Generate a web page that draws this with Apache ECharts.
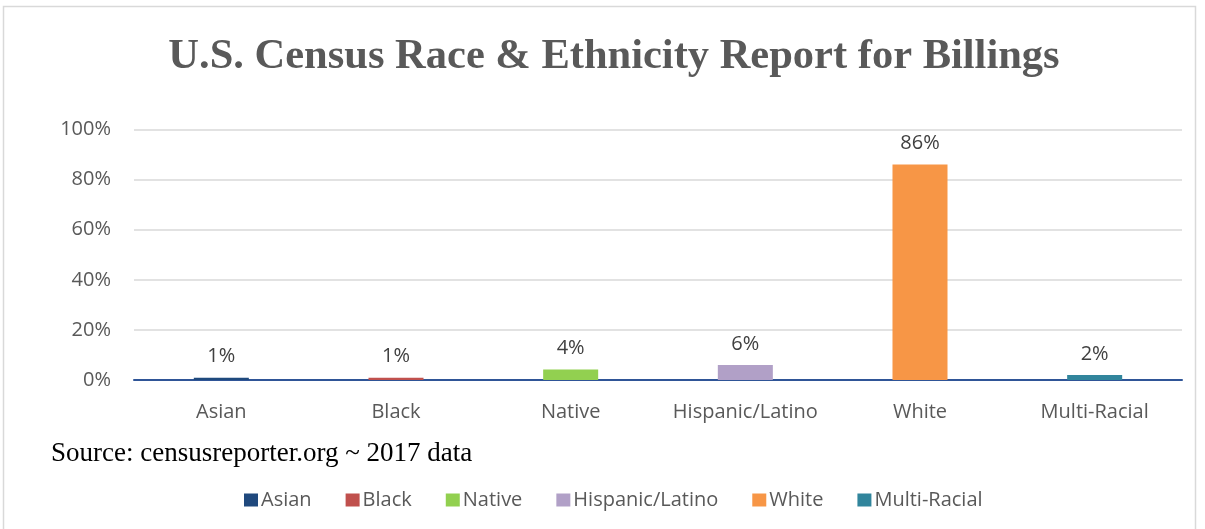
<!DOCTYPE html>
<html>
<head>
<meta charset="utf-8">
<script src="https://cdn.jsdelivr.net/npm/echarts@6/dist/echarts.min.js"></script>
<style>html,body{margin:0;padding:0;background:#fff}#c{width:1205px;height:529px}</style>
</head>
<body>
<div id="c"></div>
<script>
const categories = ['Asian', 'Black', 'Native', 'Hispanic/Latino', 'White', 'Multi-Racial'];
const values = [0.009, 0.009, 0.042, 0.06, 0.86, 0.02];
const colors = ['#1F497D', '#C0504D', '#92D050', '#B1A0C7', '#F79646', '#31859C'];
const yTicks = [0, 0.2, 0.4, 0.6, 0.8, 1.0];

const FONT = '"Open Sans", Lato, sans-serif';
const chart = echarts.init(document.getElementById('c'));
const series = categories.map((name, i) => ({
  name: name,
  type: 'bar',
  stack: 'all',
  barWidth: '31.5%',
  itemStyle: { color: colors[i] },
  data: categories.map((c, j) => (j === i ? values[i] : '-')),
  label: {
    show: true,
    position: 'top',
    distance: 11,
    fontFamily: FONT,
    fontSize: 20,
    color: '#404040',
    formatter: p => Math.round(p.value * 100) + '%'
  }
}));

chart.setOption({
  animation: false,
  color: colors,
  title: {
    text: 'U.S. Census Race & Ethnicity Report for Billings',
    left: 609, top: 31, textAlign: 'center',
    textStyle: { fontFamily: '"Liberation Serif", "DejaVu Serif", serif', fontWeight: 'bold', fontSize: 42.5, color: '#595959' }
  },
  graphic: [
    { type: 'rect', shape: { x: 3.5, y: 6.5, width: 1192, height: 540 }, style: { fill: 'none', stroke: '#D9D9D9', lineWidth: 1.5 }, silent: true },
    { type: 'text', left: 51, top: 440, style: { text: 'Source: censusreporter.org ~ 2017 data', font: '27px "Liberation Serif", serif', fill: '#000' } }
  ],
  legend: {
    top: 485,
    left: 239,
    itemWidth: 14,
    itemHeight: 13,
    itemGap: 34,
    icon: 'rect',
    textStyle: { fontFamily: FONT, fontSize: 20, color: '#595959', padding: [0, 0, 0, -2] },
    data: categories
  },
  grid: { left: 134, right: 23, top: 129.5, bottom: 149 },
  xAxis: {
    type: 'category',
    data: categories,
    axisTick: { show: false },
    axisLine: { lineStyle: { color: '#2F5597', width: 2 } },
    axisLabel: { interval: 0, margin: 22, fontFamily: FONT, fontSize: 20, color: '#595959' }
  },
  yAxis: {
    type: 'value',
    min: 0, max: 1, interval: 0.2,
    axisLine: { show: false },
    axisTick: { show: false },
    splitLine: { lineStyle: { color: '#D9D9D9', width: 1.5 } },
    axisLabel: { margin: 23, fontFamily: FONT, fontSize: 20, color: '#595959',
      formatter: v => Math.round(v * 100) + '%' }
  },
  series: series
});
</script>
</body>
</html>
